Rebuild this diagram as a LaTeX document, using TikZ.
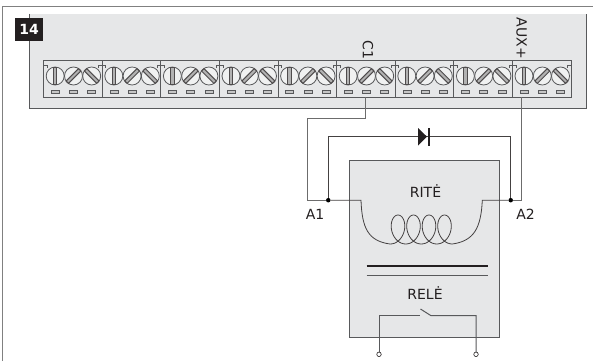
\documentclass[tikz,border=0pt]{standalone}
\usepackage{fontspec}
\setmainfont{DejaVu Sans}
\usetikzlibrary{positioning,calc}

\definecolor{panelgray}{RGB}{230,231,232}
\definecolor{linegray}{RGB}{88,89,91}
\definecolor{darkink}{RGB}{35,31,32}

\begin{document}
\begin{tikzpicture}[
		x=1pt,y=-1pt,
		block/.style={draw=linegray,line width=0.8pt,minimum width=58.6pt,minimum height=36.5pt,inner sep=0,outer sep=0},
		screw/.style={circle,draw=linegray,fill=panelgray!60,line width=0.8pt,minimum size=18pt,inner sep=0},
		slot/.style={draw=darkink!80,fill=gray!60,line width=1pt},
		pad/.style={draw=linegray,fill=gray!45,line width=0.6pt},
		wire/.style={draw=gray!85!black,line width=1pt},
		thinwire/.style={draw=darkink!85,line width=0.8pt},
		junction/.style={circle,fill=black,inner sep=0,minimum size=4.5pt},
		terminal/.style={circle,draw=darkink,fill=white,inner sep=0,minimum size=4.5pt,line width=0.6pt},
		label/.style={font=\fontsize{14}{16}\selectfont,text=darkink,inner sep=0}
	]
	\useasboundingbox (0,0) rectangle (593,361);

	% frame and panel
	\fill[white] (0,0) rectangle (593,361);
	\draw[gray,line width=0.9pt] (2.7,361) -- (2.7,6.5) -- (593,6.5);
	\fill[panelgray] (29.5,14) rectangle (586,108.5);
	\draw[linegray,line width=0.8pt] (29.5,14) -- (29.5,108.5) -- (586,108.5) -- (586,14);
	\node[fill=darkink,text=white,font=\bfseries\fontsize{14}{16}\selectfont,minimum width=28pt,minimum height=23pt,inner sep=0] (badge) at (29,29.5) {14};

	% terminal blocks
	\foreach \i in {1,...,9} {
		\node[block] (blk\i) at ({43.5+58.6*(\i-0.5)},78.75) {};
		\foreach \dx/\ang/\n in {11.7/0/a,30/-45/b,48.2/45/c} {
			\node[screw] (scr\i\n) at ({43.5+58.6*(\i-1)+\dx},76) {};
			\draw[slot,rotate around={\ang:(scr\i\n.center)}] ($(scr\i\n.center)+(-1.7,-8.7)$) rectangle ($(scr\i\n.center)+(1.7,8.7)$);
			\draw[pad] ({43.5+58.6*(\i-1)+\dx-4},90.5) rectangle ({43.5+58.6*(\i-1)+\dx+4},93.5);
		}
		\draw[linegray,line width=0.6pt] ({43.5+58.6*(\i-1)},65) -- ++(3.5,0) -- ++(0,3);
		\draw[linegray,line width=0.6pt] ({43.5+58.6*\i},65) -- ++(-3.5,0) -- ++(0,3);
	}

	\node[label,rotate=-90] (c1) at (368,50) {C1};
	\node[label,rotate=-90,anchor=east] (aux) at (521.7,59) {AUX+};

	% relay
	\node[draw=linegray,fill=panelgray,line width=0.9pt,minimum width=150pt,minimum height=177.3pt,inner sep=0,outer sep=0] (relay) at (424.3,248.65) {};
	\node[label] (rite) at (425.5,191) {RITĖ};
	\node[label] (rele) at (425,293) {RELĖ};
	\node[label] (a1) at (315,214) {A1};
	\node[label] (a2) at (525.5,214) {A2};

	% wiring
	\node[junction] (ja) at (328.3,200.2) {};
	\node[junction] (jb) at (510.7,200.2) {};
	\coordinate (coilL) at (361,200.2);
	\coordinate (coilR) at (482.3,200.2);
	\coordinate (auxin) at (521.7,97);
	\coordinate (bendC) at (307.3,118.3);
	\path[wire] (blk6.south) |- (bendC) |- (ja);
	\path[wire] (auxin) |- (jb);
	\path[thinwire] (ja) |- (424,136.7) -| (jb);
	\fill[darkink] (418,128) -- (427,136.7) -- (418,145.5) -- cycle;
	\draw[darkink,line width=1.1pt] (429,128) -- (429,145.5);

	% coil
	\path[thinwire] (ja) -- (coilL) .. controls (362,228) and (368,241) .. (390,244)
		-- plot[domain=-180:1260,samples=145,smooth] ({398+\x/360*15.5-10.4*sin(\x)},{229.5-14.5*cos(\x)})
		.. controls (474,241) and (481,228) .. (coilR) -- (jb);

	% core
	\draw[darkink,line width=2.4pt] (366.7,265.7) -- (488.3,265.7);
	\draw[linegray,line width=1.1pt] (366.7,275.7) -- (488.3,275.7);

	% contact
	\node[terminal] (tl) at (379,354.3) {};
	\node[terminal] (tr) at (476,354.3) {};
	\coordinate (cl) at (420,315.7);
	\coordinate (cr) at (431,315.7);
	\path[wire,draw=linegray] (tl) |- (cl);
	\path[wire,draw=linegray] (tr) |- (cr) -- (420.5,309);
\end{tikzpicture}
\end{document}
